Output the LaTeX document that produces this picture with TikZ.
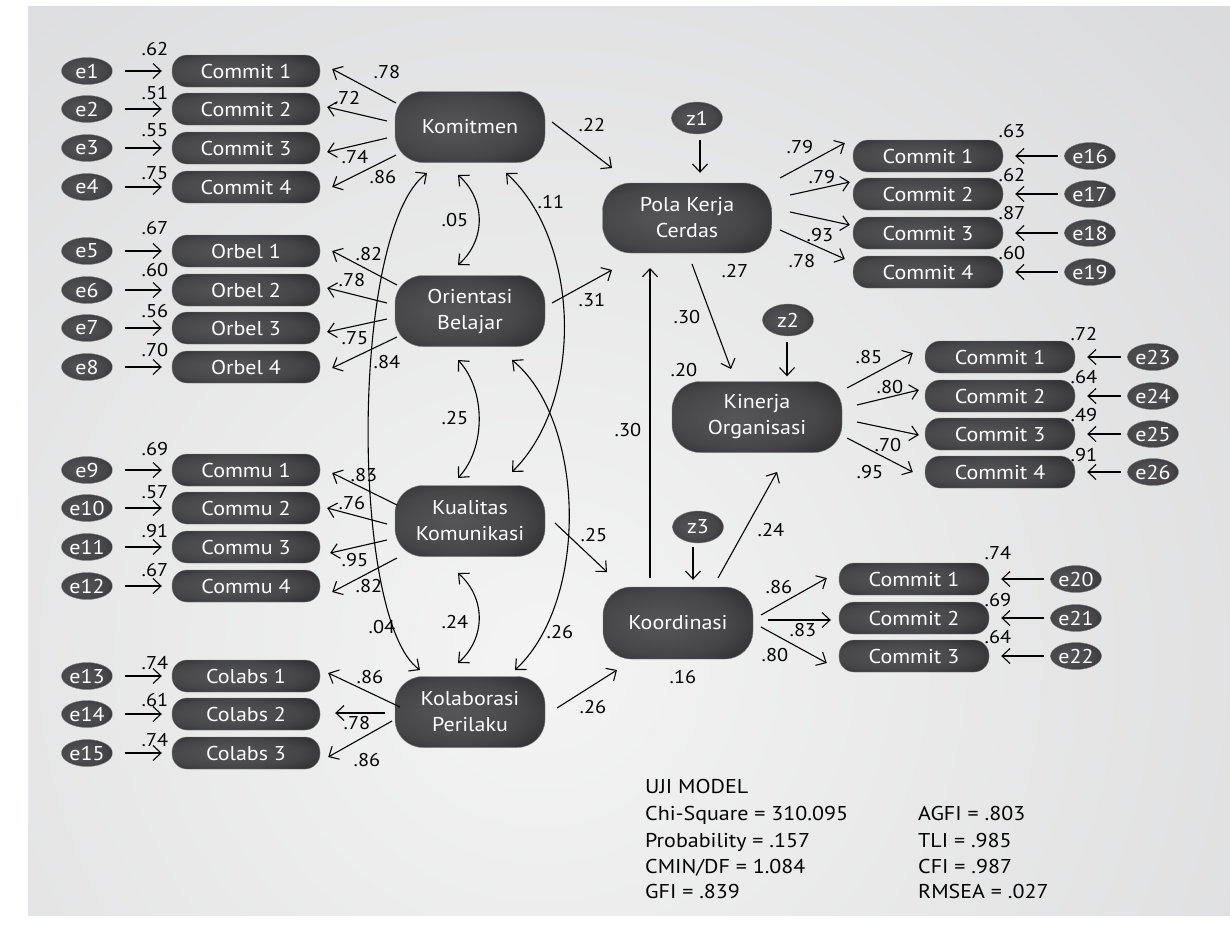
\documentclass[tikz,border=0pt]{standalone}
\usepackage{fontspec}
\setmainfont{PT Sans}[FakeStretch=1.1]
\usetikzlibrary{arrows.meta,shapes.geometric}
\definecolor{nodein}{RGB}{86,86,88}
\definecolor{nodemid}{RGB}{70,70,72}
\definecolor{nodedeep}{RGB}{38,38,40}
\definecolor{nodeout}{RGB}{14,14,14}
\definecolor{bgdark}{RGB}{208,209,211}
\definecolor{bglight}{RGB}{244,244,244}
\definecolor{rimcol}{RGB}{130,130,130}
\pgfdeclareradialshading{nodeshade}{\pgfpoint{-6bp}{0bp}}{color(0bp)=(nodein); color(22bp)=(nodemid); color(40bp)=(nodedeep); color(50bp)=(nodeout); color(72bp)=(nodeout)}
\newcommand\nodefnt{\fontsize{20}{26}\selectfont}
\newcommand\errfnt{\fontsize{20}{26}\selectfont}
\newcommand\lblfnt{\fontsize{18.5}{22}\selectfont}
\newcommand\statfnt{\fontsize{20}{26}\selectfont}
\tikzset{
 every node/.style={inner sep=0pt},
 latbox/.style={rectangle, rounded corners=28pt, minimum width=150pt, minimum height=71pt, shading=nodeshade, draw=rimcol, line width=0.4pt, text=white, align=center, font=\nodefnt},
 indbox/.style={rectangle, rounded corners=15pt, minimum width=148pt, minimum height=32pt, shading=nodeshade, draw=rimcol, line width=0.4pt, text=white, font=\nodefnt},
 errell/.style={ellipse, minimum width=51pt, minimum height=27pt, shading=nodeshade, draw=rimcol, line width=0.4pt, text=white, font=\errfnt},
 zell/.style={errell, minimum width=51pt, minimum height=32pt},
 lbl/.style={font=\lblfnt, text=black},
 arw/.style={-{Straight Barb[length=8pt,width=15pt]}, line width=1.1pt},
 darw/.style={{Straight Barb[length=8pt,width=15pt]}-{Straight Barb[length=8pt,width=15pt]}, line width=1.1pt},
 stattxt/.style={font=\statfnt, anchor=base west, text=black}
}
\begin{document}
\begin{tikzpicture}[x=1pt,y=-1pt]
\useasboundingbox (0,0) rectangle (1230,940);
\fill[white] (0,0) rectangle (1230,940);
\fill[bgdark] (28,6) rectangle (1230,915);
\begin{scope}
\clip (28,6) rectangle (1230,915);
\shade[inner color=bglight, outer color=bgdark] (540,660) circle (1300);
\end{scope}

% latent nodes
\node[latbox] (kom) at (470,127) {Komitmen};
\node[latbox] (ori) at (470,311) {Orientasi\\Belajar};
\node[latbox] (kua) at (470,521) {Kualitas\\Komunikasi};
\node[latbox] (kol) at (470,712) {Kolaborasi\\Perilaku};
\node[latbox, minimum width=169pt, minimum height=70pt] (pola) at (687,218) {Pola Kerja\\Cerdas};
\node[latbox, minimum width=170pt] (kin) at (757,417) {Kinerja\\Organisasi};
\node[latbox, minimum height=72pt] (koo) at (678,623) {Koordinasi};
\node[zell] (z1) at (697,118) {\makebox[0pt]{z1}};
\node[zell] (z2) at (788,320) {\makebox[0pt]{z2}};
\node[zell] (z3) at (698,527) {\makebox[0pt]{z3}};

% left indicators
\foreach \nm/\yy/\tx/\ee/\va/\vy in {
 k1/71/Commit 1/e1/.62/49, k2/109/Commit 2/e2/.51/93, k3/148/Commit 3/e3/.55/130, k4/187/Commit 4/e4/.75/173,
 o1/251/Orbel 1/e5/.67/228, o2/290/Orbel 2/e6/.60/270, o3/328/Orbel 3/e7/.56/311, o4/367/Orbel 4/e8/.70/350,
 q1/470/Commu 1/e9/.69/449, q2/508/Commu 2/e10/.57/492, q3/547/Commu 3/e11/.91/531, q4/586/Commu 4/e12/.67/570,
 c1/676/Colabs 1/e13/.74/663, c2/714/Colabs 2/e14/.61/700, c3/753/Colabs 3/e15/.74/740}{
 \node[indbox] (\nm) at (246,\yy) {\tx};
 \node[errell] (\ee) at (87,\yy) {\makebox[0pt]{\ee}};
 \draw[arw] ([xshift=12pt]\ee.east) -- ([xshift=-10pt]\nm.west);
 \node[lbl] (v\ee) at (155,\vy) {\va};
}

% right indicators
\foreach \nm/\xx/\yy/\tx/\ee/\ex/\va/\lx/\vy in {
 p1/928/156/Commit 1/e16/1090/.63/1012/131, p2/928/194/Commit 2/e17/1090/.62/1012/175, p3/928/233/Commit 3/e18/1090/.87/1012/213, p4/928/272/Commit 4/e19/1090/.60/1012/253,
 n1/1000/357/Commit 1/e23/1153/.72/1084/334, n2/1000/396/Commit 2/e24/1153/.64/1084/377, n3/1000/434/Commit 3/e25/1153/.49/1084/415, n4/1000/472/Commit 4/e26/1153/.91/1084/455,
 d1/914/579/Commit 1/e20/1076/.74/998/553, d2/914/618/Commit 2/e21/1076/.69/998/600, d3/914/656/Commit 3/e22/1076/.64/998/637}{
 \node[indbox, minimum width=150pt] (\nm) at (\xx,\yy) {\tx};
 \node[errell] (\ee) at (\ex,\yy) {\makebox[0pt]{\ee}};
 \draw[arw] ([xshift=-6pt]\ee.west) -- ([xshift=12pt]\nm.east);
 \node[lbl] (v\ee) at (\lx,\vy) {\va};
}

% loadings to the left
\foreach \lat/\sx/\sy/\nm/\tx/\ty/\va/\lx/\ly in {
 kom/-74/-24/k1/12/-2/.78/387/72, kom/-83/-6/k2/7/-2/.72/347/98, kom/-83/11/k3/7/4/.74/355/157, kom/-74/28/k4/12/0/.86/383/177,
 ori/-73/-26/o1/12/0/.82/369/254, ori/-83/-8/o2/7/-2/.78/352/280, ori/-83/8/o3/7/4/.75/355/338, ori/-73/26/o4/12/1/.84/387/362,
 kua/-73/-16/q1/12/3/.83/364/475, kua/-83/3/q2/7/0/.76/352/503, kua/-83/19/q3/10/6/.95/355/560, kua/-73/37/q4/12/6/.82/369/586,
 kol/-70/-5/c1/8/-3/.86/370/677, kol/-85/1/c2/15/-1/.78/357/723, kol/-78/9/c3/8/4/.86/367/760}{
 \draw[arw] ([shift={(\sx,\sy)}]\lat.center) -- ([shift={(\tx,\ty)}]\nm.east);
 \node[lbl] (w\nm) at (\lx,\ly) {\va};
}

% loadings to the right
\foreach \lat/\sx/\sy/\nm/\tx/\ty/\va/\lx/\ly in {
 pola/93/-40/p1/-8/-13/.79/800/147, pola/103/-23/p2/-3/-12/.79/822/177, pola/103/-6/p3/-3/-8/.93/820/235, pola/93/12/p4/-8/-13/.78/802/261,
 kin/90/-29/n1/-12/-4/.85/869/357, kin/100/-12/n2/-6/-6/.80/890/387, kin/100/5/n3/-6/1/.70/888/445, kin/90/21/n4/-12/0/.95/870/472,
 koo/83/-8/d1/-12/-1/.86/779/587, koo/90/-3/d2/-8/2/.83/803/630, koo/83/4/d3/-12/7/.80/775/655}{
 \draw[arw] ([shift={(\sx,\sy)}]\lat.center) -- ([shift={(\tx,\ty)}]\nm.west);
 \node[lbl] (w\nm) at (\lx,\ly) {\va};
}

% structural paths
\draw[arw] ([shift={(82,-5)}]kom.center) -- ([shift={(-75,-50)}]pola.center);
\draw[arw] ([shift={(82,-8)}]ori.center) -- ([shift={(-75,52)}]pola.center);
\draw[arw] ([shift={(85,2)}]kua.center) -- ([shift={(-71,-51)}]koo.center);
\draw[arw] ([shift={(87,-4)}]kol.center) -- ([shift={(-61,47)}]koo.center);
\draw[arw] ([shift={(-28,-45)}]koo.center) -- ([shift={(-37,50)}]pola.center);
\draw[arw] ([shift={(5,46)}]pola.center) -- ([shift={(-26,-48)}]kin.center);
\draw[arw] ([shift={(40,-45)}]koo.center) -- ([shift={(20,55)}]kin.center);
\draw[arw] ([shift={(3,6)}]z1.south) -- ([shift={(13,-10)}]pola.north);
\draw[arw] ([shift={(-1,6)}]z2.south) -- ([shift={(30,-5)}]kin.north);
\draw[arw] ([shift={(-5,4)}]z3.south) -- ([shift={(15,-7)}]koo.north);

% covariances
\draw[darw] ([shift={(-12,48)}]kom.center) .. controls (486,200) and (486,240) .. ([shift={(-12,-46)}]ori.center);
\draw[darw] ([shift={(-12,49)}]ori.center) .. controls (486,390) and (486,448) .. ([shift={(-12,-43)}]kua.center);
\draw[darw] ([shift={(-12,52)}]kua.center) .. controls (486,598) and (486,638) .. ([shift={(-12,-49)}]kol.center);
\draw[darw] ([shift={(36,46)}]kom.center) .. controls (580,240) and (585,400) .. ([shift={(42,-49)}]kua.center);
\draw[darw] ([shift={(42,49)}]ori.center) .. controls (585,420) and (590,600) .. ([shift={(45,-42)}]kol.center);
\draw[darw] ([shift={(-43,46)}]kom.center) .. controls (350,230) and (350,620) .. ([shift={(-50,-42)}]kol.center);

% path and covariance labels
\node[lbl] (c05) at (455,220) {.05};
\node[lbl] (c25) at (455,418) {.25};
\node[lbl] (c24) at (455,622) {.24};
\node[lbl] (c11) at (551,202) {.11};
\node[lbl] (c26) at (560,632) {.26};
\node[lbl] (c04) at (382,627) {.04};
\node[lbl] (b22) at (592,125) {.22};
\node[lbl] (b31) at (592,300) {.31};
\node[lbl] (b30a) at (628,430) {.30};
\node[lbl] (b30b) at (687,317) {.30};
\node[lbl] (r27) at (735,271) {.27};
\node[lbl] (r20) at (684,370) {.20};
\node[lbl] (b24) at (771,530) {.24};
\node[lbl] (b25) at (594,535) {.25};
\node[lbl] (b26) at (593,707) {.26};
\node[lbl] (r16) at (683,677) {.16};

% model fit text
\node[stattxt] (s1) at (645,793) {UJI MODEL};
\node[stattxt] (s2) at (645,820) {Chi-Square = 310.095};
\node[stattxt] (s3) at (645,847) {Probability = .157};
\node[stattxt] (s4) at (645,873) {CMIN/DF = 1.084};
\node[stattxt] (s5) at (645,898) {GFI = .839};
\node[stattxt] (s6) at (918,820) {AGFI = .803};
\node[stattxt] (s7) at (918,847) {TLI = .985};
\node[stattxt] (s8) at (918,873) {CFI = .987};
\node[stattxt] (s9) at (918,898) {RMSEA = .027};
\end{tikzpicture}
\end{document}
